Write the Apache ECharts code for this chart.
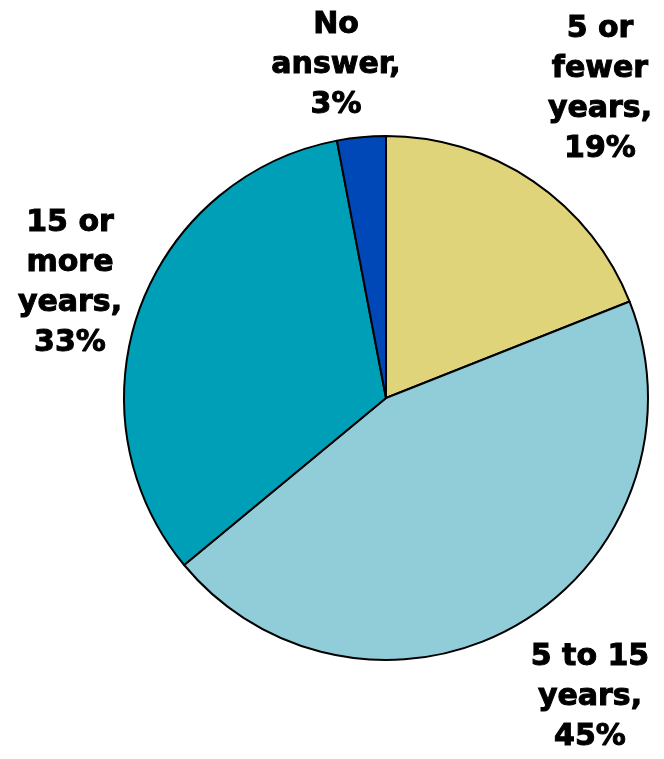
<!DOCTYPE html>
<html>
<head>
<meta charset="utf-8">
<script src="https://cdn.jsdelivr.net/npm/echarts@6/dist/echarts.min.js"></script>
<style>
  html, body { margin: 0; padding: 0; background: #fff; }
  #chart { width: 664px; height: 759px; }
</style>
</head>
<body>
<div id="chart"></div>
<script>
const categories = ['5 or\nfewer\nyears', '5 to 15\nyears', '15 or\nmore\nyears', 'No\nanswer'];
const values = [19, 45, 33, 3];
const colors = ['#E0D47B', '#91CDD9', '#009FB8', '#0047B7'];

// label anchor spots (centre of each text block)
const labelSpots = [[600, 89], [590, 697], [70, 283], [336, 65]];

const chart = echarts.init(document.getElementById('chart'));

const option = {
  animation: false,
  series: [
    {
      type: 'pie',
      center: [386, 398],
      radius: 262,
      startAngle: 90,
      clockwise: true,
      data: categories.map((name, i) => ({
        name: name,
        value: values[i],
        itemStyle: { color: colors[i] }
      })),
      itemStyle: {
        borderColor: '#000',
        borderWidth: 2
      },
      label: {
        show: true,
        position: 'outside',
        formatter: p => p.name + ',\n' + p.value + '%',
        fontFamily: 'DejaVu Sans',
        fontWeight: 'bold',
        fontSize: 30,
        lineHeight: 40,
        color: '#000',
        textBorderColor: '#000',
        textBorderWidth: 1,
        align: 'center',
        overflow: 'none',
        width: 220
      },
      labelLine: { show: false },
      labelLayout: function (params) {
        const s = labelSpots[params.dataIndex];
        return { x: s[0], y: s[1], align: 'center', verticalAlign: 'middle' };
      },
      emphasis: { disabled: true }
    }
  ]
};

chart.setOption(option);
</script>
</body>
</html>
